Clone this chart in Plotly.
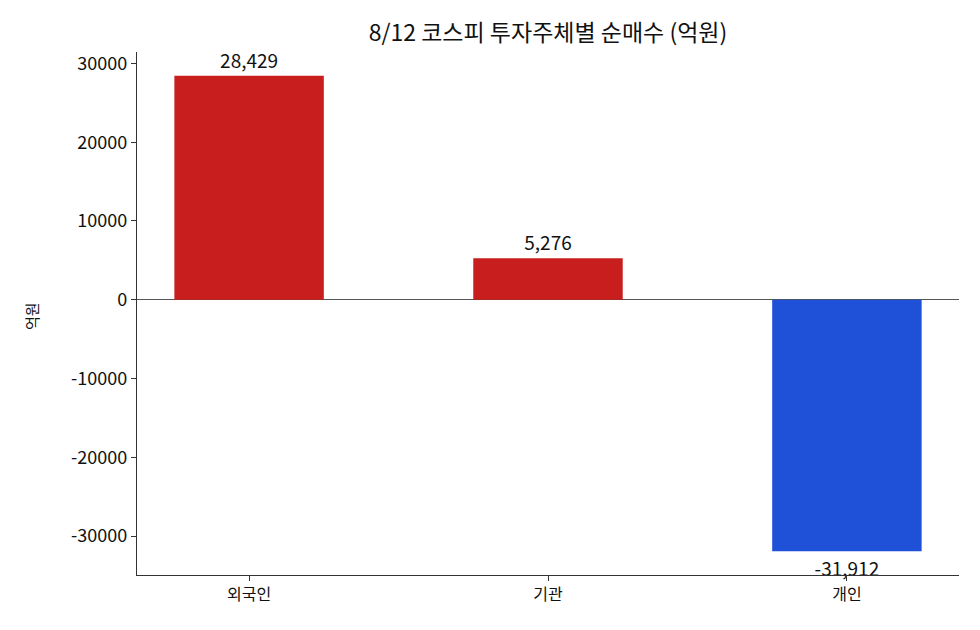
import plotly.graph_objects as go

# 8/12 코스피 투자주체별 순매수 (억원)
investors = ["외국인", "기관", "개인"]
net_buy = [28429, 5276, -31912]
y_ticks = [-30000, -20000, -10000, 0, 10000, 20000, 30000]

RED = "#c81e1e"
BLUE = "#1e50d8"
FONT = "Noto Sans CJK KR"

colors = [RED if v >= 0 else BLUE for v in net_buy]
labels = [f"{v:,}" for v in net_buy]

fig = go.Figure(go.Bar(
    x=investors,
    y=net_buy,
    width=0.5,
    marker=dict(color=colors, line=dict(width=0)),
    text=labels,
    textposition="outside",
    constraintext="none",
    cliponaxis=False,
    textfont=dict(family=FONT, size=19, color="#111111"),
    showlegend=False,
))

# page body adds an 8px offset, margins are shifted to compensate
fig.update_layout(
    width=980,
    height=630,
    margin=dict(l=129, r=29, t=44, b=63),
    paper_bgcolor="white",
    plot_bgcolor="white",
    font=dict(family=FONT, color="#111111"),
    title=dict(
        text="8/12 코스피 투자주체별 순매수 (억원)",
        x=0.5, xref="paper", xanchor="center",
        y=1 - 25 / 630, yanchor="middle",
        font=dict(family=FONT, size=23, color="#111111"),
    ),
    annotations=[dict(
        text="억원", textangle=-90, showarrow=False,
        xref="paper", yref="paper", x=-0.129, y=0.495,
        xanchor="center", yanchor="middle",
        font=dict(family=FONT, size=15, color="#111111"),
    )],
)

fig.update_xaxes(
    range=[-0.375, 2.375],
    showline=True, linecolor="#333333", linewidth=1.3,
    ticks="outside", ticklen=5, tickcolor="#333333", tickwidth=1.3,
    tickfont=dict(family=FONT, size=16, color="#111111"),
    showgrid=False, zeroline=False,
)

fig.update_yaxes(
    range=[-34929, 31446],
    tickvals=y_ticks,
    ticktext=[str(v) for v in y_ticks],
    showline=True, linecolor="#333333", linewidth=1.3,
    ticks="outside", ticklen=5, tickcolor="#333333", tickwidth=1.3,
    tickfont=dict(family=FONT, size=18, color="#111111"),
    showgrid=False,
    zeroline=True, zerolinecolor="#555555", zerolinewidth=1.2,
)

fig.write_html("out.html")
